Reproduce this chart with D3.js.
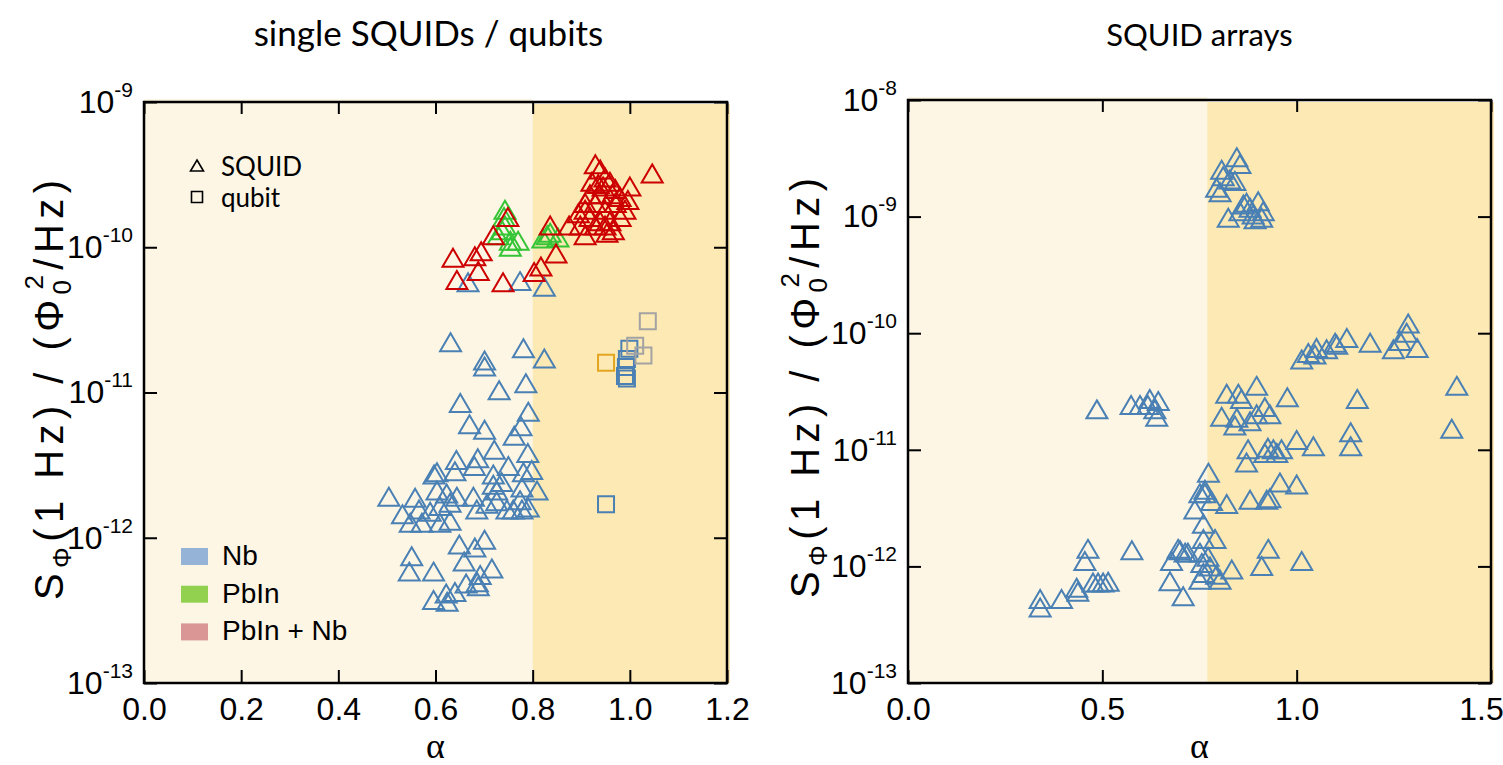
<!DOCTYPE html>
<html>
<head>
<meta charset="utf-8">
<script src="https://cdn.jsdelivr.net/npm/d3@7"></script>
<style>
  body { margin: 0; background: #fff; }
  text { font-family: "Liberation Sans", Arial, sans-serif; fill: #000; }
</style>
</head>
<body>
<div id="chart"></div>
<script>
// tick values
var leftXTicks = [0, 0.2, 0.4, 0.6, 0.8, 1.0, 1.2];
var leftYTicks = [1e-13, 1e-12, 1e-11, 1e-10, 1e-9];
var rightXTicks = [0, 0.5, 1.0, 1.5];
var rightYTicks = [1e-13, 1e-12, 1e-11, 1e-10, 1e-9, 1e-8];

// single SQUIDs, [alpha, S_phi(1 Hz)]
var squidNb = [
  [0.667, 5.7e-11], [0.774, 5.8e-11], [0.824, 5.3e-11],
  [0.631, 2.2e-11], [0.781, 2.0e-11], [0.824, 1.7e-11], [0.701, 1.65e-11], [0.701, 1.5e-11],
  [0.786, 1.15e-11], [0.731, 1.03e-11], [0.651, 8.4e-12], [0.791, 7.3e-12], [0.670, 6.0e-12],
  [0.701, 5.5e-12], [0.776, 5.8e-12], [0.762, 5.0e-12], [0.721, 4.0e-12], [0.790, 3.8e-12],
  [0.687, 3.5e-12], [0.643, 3.4e-12], [0.750, 3.1e-12], [0.798, 2.9e-12], [0.680, 3.1e-12],
  [0.640, 2.85e-12], [0.597, 2.7e-12], [0.603, 2.8e-12], [0.719, 2.7e-12], [0.781, 2.8e-12],
  [0.809, 2.1e-12], [0.504, 1.9e-12], [0.558, 1.87e-12], [0.603, 2.1e-12], [0.623, 2.0e-12],
  [0.644, 1.9e-12], [0.678, 1.9e-12], [0.719, 2.3e-12], [0.736, 2.4e-12], [0.778, 2.2e-12],
  [0.532, 1.44e-12], [0.566, 1.55e-12], [0.589, 1.5e-12], [0.609, 1.64e-12], [0.630, 1.73e-12],
  [0.548, 1.26e-12], [0.572, 1.26e-12], [0.609, 1.26e-12], [0.630, 1.3e-12], [0.685, 1.55e-12],
  [0.706, 1.7e-12], [0.726, 1.77e-12], [0.747, 1.55e-12], [0.760, 1.55e-12], [0.778, 1.55e-12],
  [0.791, 1.6e-12], [0.774, 1.8e-12], [0.726, 2.1e-12],
  [0.649, 8.9e-13], [0.681, 8.5e-13], [0.701, 9.6e-13], [0.551, 7.4e-13], [0.659, 6.8e-13],
  [0.546, 5.8e-13], [0.596, 5.8e-13], [0.716, 6.1e-13], [0.692, 5.5e-13], [0.663, 4.8e-13],
  [0.686, 4.9e-13], [0.688, 4.6e-13], [0.596, 3.7e-13], [0.622, 4.1e-13], [0.640, 4.2e-13],
  [0.624, 3.6e-13]
];
var squidPbIn = [
  [0.743, 1.8e-10], [0.741, 1.6e-10], [0.743, 1.4e-10], [0.737, 1.3e-10], [0.729, 1.2e-10],
  [0.754, 1.1e-10], [0.770, 1.1e-10], [0.754, 1.0e-10], [0.830, 1.2e-10], [0.836, 1.25e-10],
  [0.852, 1.16e-10], [0.821, 1.14e-10]
];
var squidPbInNb = [
  [0.636, 8.4e-11], [0.644, 5.9e-11], [0.681, 8.6e-11], [0.694, 9.3e-11], [0.688, 6.8e-11],
  [0.719, 1.2e-10], [0.739, 5.7e-11], [0.749, 1.6e-10], [0.803, 6.7e-11], [0.817, 7.3e-11],
  [0.836, 1.4e-10], [0.848, 9.0e-11], [0.875, 1.4e-10], [0.908, 1.2e-10], [0.929, 3.7e-10],
  [1.046, 3.2e-10], [0.939, 3.4e-10], [0.949, 3.0e-10], [0.935, 2.7e-10], [0.959, 2.8e-10],
  [0.970, 2.5e-10], [0.918, 2.3e-10], [0.939, 2.3e-10], [0.980, 2.2e-10], [0.908, 2.0e-10],
  [0.929, 2.0e-10], [0.949, 1.8e-10], [0.970, 2.0e-10], [0.990, 1.8e-10], [0.894, 1.7e-10],
  [0.918, 1.6e-10], [0.939, 1.5e-10], [0.959, 1.5e-10], [0.980, 1.6e-10], [0.898, 1.4e-10],
  [0.929, 1.4e-10], [0.949, 1.4e-10], [0.908, 1.8e-10], [0.964, 2.3e-10], [0.922, 2.8e-10],
  [0.945, 2.6e-10], [0.996, 2.1e-10], [1.000, 2.6e-10], [0.953, 1.25e-10], [0.966, 1.3e-10]
];

// qubits
var qubitNb = [
  [0.999, 2.0e-11], [0.994, 1.7e-11], [0.992, 1.5e-11], [0.990, 1.3e-11], [0.994, 1.25e-11],
  [0.951, 1.7e-12]
];
var qubitAmber = [[0.951, 1.6e-11]];
var qubitGrey = [[1.037, 3.1e-11], [1.011, 2.1e-11], [1.028, 1.8e-11]];

// SQUID arrays
var arraysNb = [
  [0.846, 3.2e-9], [0.854, 2.8e-9], [0.807, 2.5e-9], [0.811, 2.2e-9], [0.828, 2.06e-9],
  [0.841, 2.0e-9], [0.794, 1.75e-9], [0.803, 1.6e-9], [0.863, 1.26e-9], [0.871, 1.3e-9],
  [0.901, 1.34e-9], [0.880, 1.18e-9], [0.824, 9.7e-10], [0.854, 1.1e-9], [0.893, 9.4e-10],
  [0.910, 9.7e-10], [0.914, 1.1e-9], [0.888, 1.03e-9],
  [1.013, 5.9e-11], [1.030, 6.7e-11], [1.047, 6.5e-11], [1.051, 7.4e-11], [1.077, 7.2e-11],
  [1.099, 8.2e-11], [1.103, 7.9e-11], [1.129, 9.0e-11], [1.189, 8.2e-11], [1.249, 7.2e-11],
  [1.266, 8.5e-11], [1.287, 1.2e-10], [1.283, 1.0e-10], [1.310, 7.4e-11], [1.412, 3.5e-11],
  [1.399, 1.5e-11], [1.156, 2.7e-11], [1.139, 1.4e-11], [1.139, 1.06e-11], [1.043, 1.06e-11],
  [1.000, 1.2e-11], [0.976, 2.8e-11], [0.897, 3.5e-11], [0.820, 3.0e-11], [0.850, 3.0e-11],
  [0.858, 2.7e-11], [0.807, 1.9e-11], [0.846, 1.86e-11], [0.841, 1.6e-11], [0.880, 1.74e-11],
  [0.897, 2.0e-11], [0.918, 2.3e-11], [0.931, 2.0e-11], [0.875, 1.0e-11], [0.871, 7.7e-12],
  [0.940, 1.0e-11], [0.949, 9.3e-12], [0.961, 1.0e-11], [0.918, 9.3e-12], [0.926, 1.03e-11],
  [0.773, 6.3e-12], [0.957, 5.2e-12], [1.000, 5.0e-12], [0.880, 3.7e-12], [0.923, 3.7e-12],
  [0.931, 3.8e-12], [0.820, 3.4e-12], [0.764, 4.5e-12], [0.751, 4.2e-12], [0.764, 4.2e-12],
  [0.781, 3.6e-12], [0.738, 3.05e-12], [0.760, 2.3e-12], [0.760, 1.7e-12], [0.790, 1.7e-12],
  [0.695, 1.4e-12], [0.713, 1.3e-12], [0.678, 1.1e-12], [0.751, 1.3e-12], [0.772, 1.2e-12],
  [0.756, 1.06e-12], [0.777, 9.9e-13], [0.760, 8.7e-13], [0.794, 8.4e-13], [0.833, 9.3e-13],
  [0.803, 7.6e-13], [0.751, 7.6e-13], [0.674, 7.4e-13], [0.708, 5.5e-13], [0.927, 1.4e-12],
  [0.910, 1.0e-12], [1.013, 1.1e-12],
  [0.644, 2.6e-11], [0.640, 1.9e-11], [0.486, 2.2e-11], [0.574, 2.4e-11], [0.597, 2.4e-11],
  [0.617, 2.4e-11], [0.635, 2.2e-11], [0.622, 2.7e-11],
  [0.340, 5.2e-13], [0.340, 4.4e-13], [0.395, 5.2e-13], [0.434, 6.5e-13], [0.437, 6.0e-13],
  [0.476, 7.2e-13], [0.489, 7.2e-13], [0.502, 7.2e-13], [0.515, 7.3e-13], [0.463, 1.4e-12],
  [0.455, 1.1e-12], [0.576, 1.36e-12], [0.700, 1.36e-12], [0.720, 1.3e-12]
];

// material legend
var legendLabels = ["Nb", "PbIn", "PbIn + Nb"];
var legendColors = ["#95b3d7", "#92d050", "#d99694"];

var blue = "#4a80b4", green = "#35c435", red = "#cc0000";

var svg = d3.select("#chart").append("svg")
  .attr("width", 1503)
  .attr("height", 765);

var triPath = "M0,-9.5L10.5,8.5L-10.5,8.5Z";
var sqPath = "M-8,-8H8V8H-8Z";

function drawPanel(p) {
  var x = d3.scaleLinear().domain(p.xDomain).range([p.left, p.right]);
  var y = d3.scaleLog().domain(p.yDomain).range([p.bottom, p.top]);
  var g = svg.append("g");

  // background bands
  g.append("rect")
    .attr("x", p.left).attr("y", p.top - 3)
    .attr("width", x(p.shade) - p.left).attr("height", p.bottom - p.top + 3)
    .attr("fill", "#fdf6e5");
  g.append("rect")
    .attr("x", x(p.shade)).attr("y", p.top + 2)
    .attr("width", p.right - x(p.shade) + 3).attr("height", p.bottom - p.top - 2)
    .attr("fill", "#fde9b3");

  // markers
  p.series.forEach(function(s) {
    g.append("g").selectAll("path")
      .data(s.data)
      .enter()
      .append("path")
      .attr("d", s.shape)
      .attr("transform", d => `translate(${x(d[0])},${y(d[1])})`)
      .attr("fill", "none")
      .attr("stroke", s.color)
      .attr("stroke-width", 2);
  });

  // axes, ticks pointing in on all four sides
  var bottomAxis = d3.axisBottom(x).tickValues(p.xTicks).tickSize(-13).tickPadding(14)
    .tickFormat(d3.format(".1f"));
  var topAxis = d3.axisTop(x).tickValues(p.xTicks).tickSize(-12).tickFormat("");
  var leftAxis = d3.axisLeft(y).tickValues(p.yTicks).tickSize(-13).tickPadding(11);
  var rightAxis = d3.axisRight(y).tickValues(p.yTicks).tickSize(-13).tickFormat("");

  var axes = [
    g.append("g").attr("transform", `translate(0,${p.bottom})`).call(bottomAxis),
    g.append("g").attr("transform", `translate(0,${p.top})`).call(topAxis),
    g.append("g").attr("transform", `translate(${p.left},0)`).call(leftAxis),
    g.append("g").attr("transform", `translate(${p.right},0)`).call(rightAxis)
  ];
  axes.forEach(function(a) {
    a.select(".domain").remove();
    a.selectAll(".tick line").attr("stroke", "#000").attr("stroke-width", 2);
    a.selectAll("text").attr("font-size", 32).attr("font-family", "Liberation Sans, Arial, sans-serif");
  });

  // keep the last x label inside the page
  axes[0].selectAll(".tick text").filter(d => x(d) > 1480).attr("dx", -10);

  // 10^n labels
  axes[2].selectAll(".tick text").each(function(d) {
    var t = d3.select(this).text(null);
    t.append("tspan").text("10");
    t.append("tspan").attr("dy", -16).attr("font-size", 21)
      .text(Math.round(Math.log10(d)));
  });

  // frame
  g.append("rect")
    .attr("x", p.left).attr("y", p.top)
    .attr("width", p.right - p.left).attr("height", p.bottom - p.top)
    .attr("fill", "none").attr("stroke", "#000").attr("stroke-width", 2.5);

  // titles
  svg.append("text")
    .attr("x", (p.left + p.right) / 2 + p.titleDx).attr("y", 46)
    .attr("text-anchor", "middle")
    .style("font-family", "Lato, 'Open Sans', sans-serif")
    .attr("font-size", p.titleSize)
    .text(p.title);

  svg.append("text")
    .attr("x", (p.left + p.right) / 2).attr("y", 758)
    .attr("text-anchor", "middle")
    .style("font-family", "'Liberation Serif', serif")
    .attr("font-size", 36)
    .text("α");

  var yl = svg.append("text")
    .attr("transform", `translate(${p.ylabelX},${p.ylabelY}) rotate(-90)`)
    .attr("text-anchor", "middle")
    .attr("textLength", 420)
    .attr("lengthAdjust", "spacing")
    .attr("font-size", 40);
  yl.append("tspan").text("S");
  yl.append("tspan").attr("font-size", 26).attr("dy", 8).text("Φ");
  yl.append("tspan").attr("dy", -8).text("(1 Hz) / (Φ");
  yl.append("tspan").attr("font-size", 26).attr("dy", 8).text("0");
  yl.append("tspan").attr("font-size", 26).attr("dx", -15).attr("dy", -28).text("2");
  yl.append("tspan").attr("dy", 20).text("/Hz)");

  return { x: x, y: y, g: g };
}

var left = drawPanel({
  left: 144, right: 727, top: 102, bottom: 683,
  xDomain: [0, 1.2], yDomain: [1e-13, 1e-9], shade: 0.8,
  xTicks: leftXTicks, yTicks: leftYTicks,
  title: "single SQUIDs / qubits", titleSize: 35, titleDx: -7,
  ylabelX: 63, ylabelY: 390,
  series: [
    { data: squidNb, color: blue, shape: triPath },
    { data: squidPbIn, color: green, shape: triPath },
    { data: squidPbInNb, color: red, shape: triPath },
    { data: qubitNb, color: blue, shape: sqPath },
    { data: qubitAmber, color: "#e4a520", shape: sqPath },
    { data: qubitGrey, color: "#a3a3a3", shape: sqPath }
  ]
});

var right = drawPanel({
  left: 908, right: 1491, top: 100, bottom: 683,
  xDomain: [0, 1.5], yDomain: [1e-13, 1e-8], shade: 0.77,
  xTicks: rightXTicks, yTicks: rightYTicks,
  title: "SQUID arrays", titleSize: 31, titleDx: 0,
  ylabelX: 819, ylabelY: 388,
  series: [
    { data: arraysNb, color: blue, shape: triPath }
  ]
});

// device legend (top left)
var lg = svg.append("g");
lg.append("path").attr("d", "M0,-6L6.5,5L-6.5,5Z")
  .attr("transform", "translate(197,166)")
  .attr("fill", "none").attr("stroke", "#000").attr("stroke-width", 1.6);
lg.append("path").attr("d", "M-5.5,-5.5H5.5V5.5H-5.5Z")
  .attr("transform", "translate(197,197)")
  .attr("fill", "none").attr("stroke", "#000").attr("stroke-width", 1.6);
["SQUID", "qubit"].forEach(function(t, i) {
  lg.append("text")
    .attr("x", 221).attr("y", 176 + i * 31)
    .style("font-family", "Lato, 'Open Sans', sans-serif")
    .attr("font-size", 26)
    .text(t);
});

// material legend (bottom left)
var mg = svg.append("g").selectAll("g")
  .data(legendLabels)
  .enter()
  .append("g")
  .attr("transform", (d, i) => `translate(181,${548 + i * 37.7})`);
mg.append("rect")
  .attr("width", 27).attr("height", 17)
  .attr("fill", (d, i) => legendColors[i]);
mg.append("text")
  .attr("x", 41).attr("y", 17)
  .attr("font-size", 28)
  .text(d => d);
</script>
</body>
</html>
